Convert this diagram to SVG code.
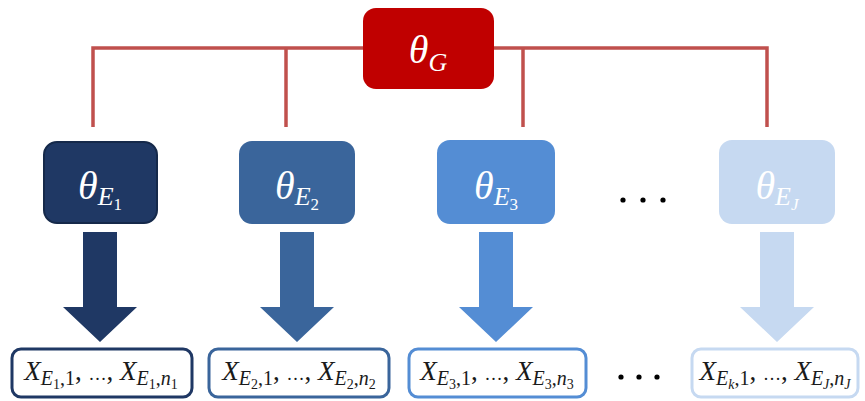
<svg xmlns="http://www.w3.org/2000/svg" width="865" height="401" viewBox="0 0 865 401">
<style>
.m{font-family:"Liberation Serif","DejaVu Serif",serif;font-style:italic}
.u{font-style:normal}
.th{font-size:40px;fill:#fff}
.sb{font-size:26px}
.ss{font-size:17px}
.bx{font-size:27px;fill:#1a1a1a}
.bs{font-size:20px}
.bss{font-size:14px}
.el{font-size:18px}
.link{fill:none;stroke:#c0504d;stroke-width:3.5}
.out{fill:#fff;stroke-width:3}
</style>
<rect width="865" height="401" fill="#fff"/>
<g id="connectors">
<path class="link" d="M93,127 V48 H767 V127"/>
<path class="link" d="M286,48 V127"/>
<path class="link" d="M523,48 V127"/>
<path id="arrow1" fill="#1f3864" d="M83,232 H117 V307 H137 L100,342 L63,307 H83 Z"/>
<path id="arrow2" fill="#3a659b" d="M280,232 H314 V307 H334 L297,342 L260,307 H280 Z"/>
<path id="arrow3" fill="#548dd4" d="M479,232 H513 V307 H533 L496,342 L459,307 H479 Z"/>
<path id="arrowJ" fill="#c6d9f1" d="M760,232 H794 V307 H814 L777,342 L740,307 H760 Z"/>
</g>
<g id="thetaG">
<rect x="363" y="8" width="131" height="81" rx="13" fill="#c00000"/>
<text class="m th" x="428" y="63" text-anchor="middle">θ<tspan class="sb" dy="8">G</tspan></text>
</g>
<g id="thetaE1">
<rect x="44" y="142" width="113" height="81" rx="13" fill="#1f3864" stroke="#15294a" stroke-width="2"/>
<text class="m th" x="100" y="199" text-anchor="middle">θ<tspan class="sb" dy="6">E</tspan><tspan class="ss u" dy="5">1</tspan></text>
</g>
<g id="thetaE2">
<rect x="239" y="141" width="116" height="83" rx="13" fill="#3a659b"/>
<text class="m th" x="297" y="199" text-anchor="middle">θ<tspan class="sb" dy="6">E</tspan><tspan class="ss u" dy="5">2</tspan></text>
</g>
<g id="thetaE3">
<rect x="437" y="140" width="118" height="84" rx="13" fill="#548dd4"/>
<text class="m th" x="496" y="199" text-anchor="middle">θ<tspan class="sb" dy="6">E</tspan><tspan class="ss u" dy="5">3</tspan></text>
</g>
<g id="dotsTop" fill="#000">
<circle cx="623" cy="200" r="2.6"/><circle cx="643" cy="200" r="2.6"/><circle cx="663" cy="200" r="2.6"/>
</g>
<g id="thetaEJ">
<rect x="719" y="140" width="116" height="84" rx="13" fill="#c6d9f1"/>
<text class="m th" x="777" y="199" text-anchor="middle">θ<tspan class="sb" dy="6">E</tspan><tspan class="ss" dy="5">J</tspan></text>
</g>
<g id="data1">
<rect class="out" x="12" y="349" width="180" height="48" rx="9" stroke="#1f3864"/>
<text class="m bx" x="101" y="380" text-anchor="middle">X<tspan class="bs" dy="5">E</tspan><tspan class="bss u" dy="4">1</tspan><tspan class="bs u" dy="-4">,1</tspan><tspan class="u" dy="-5">, <tspan class="el">…</tspan>, </tspan>X<tspan class="bs" dy="5">E</tspan><tspan class="bss u" dy="4">1</tspan><tspan class="bs u" dy="-4">,</tspan><tspan class="bs">n</tspan><tspan class="bss u" dy="4">1</tspan></text>
</g>
<g id="data2">
<rect class="out" x="209" y="349" width="180" height="48" rx="9" stroke="#3a659b"/>
<text class="m bx" x="299" y="380" text-anchor="middle">X<tspan class="bs" dy="5">E</tspan><tspan class="bss u" dy="4">2</tspan><tspan class="bs u" dy="-4">,1</tspan><tspan class="u" dy="-5">, <tspan class="el">…</tspan>, </tspan>X<tspan class="bs" dy="5">E</tspan><tspan class="bss u" dy="4">2</tspan><tspan class="bs u" dy="-4">,</tspan><tspan class="bs">n</tspan><tspan class="bss u" dy="4">2</tspan></text>
</g>
<g id="data3">
<rect class="out" x="409" y="349" width="177" height="48" rx="9" stroke="#548dd4"/>
<text class="m bx" x="497" y="380" text-anchor="middle">X<tspan class="bs" dy="5">E</tspan><tspan class="bss u" dy="4">3</tspan><tspan class="bs u" dy="-4">,1</tspan><tspan class="u" dy="-5">, <tspan class="el">…</tspan>, </tspan>X<tspan class="bs" dy="5">E</tspan><tspan class="bss u" dy="4">3</tspan><tspan class="bs u" dy="-4">,</tspan><tspan class="bs">n</tspan><tspan class="bss u" dy="4">3</tspan></text>
</g>
<g id="dotsBottom" fill="#000">
<circle cx="621" cy="377" r="2.6"/><circle cx="639" cy="377" r="2.6"/><circle cx="657" cy="377" r="2.6"/>
</g>
<g id="dataJ">
<rect class="out" x="692" y="349" width="166" height="48" rx="9" stroke="#c6d9f1"/>
<text class="m bx" x="775" y="380" text-anchor="middle">X<tspan class="bs" dy="5">E</tspan><tspan class="bss" dy="4">k</tspan><tspan class="bs u" dy="-4">,1</tspan><tspan class="u" dy="-5">, <tspan class="el">…</tspan>, </tspan>X<tspan class="bs" dy="5">E</tspan><tspan class="bss" dy="4">J</tspan><tspan class="bs u" dy="-4">,</tspan><tspan class="bs">n</tspan><tspan class="bss" dy="4">J</tspan></text>
</g>
</svg>
